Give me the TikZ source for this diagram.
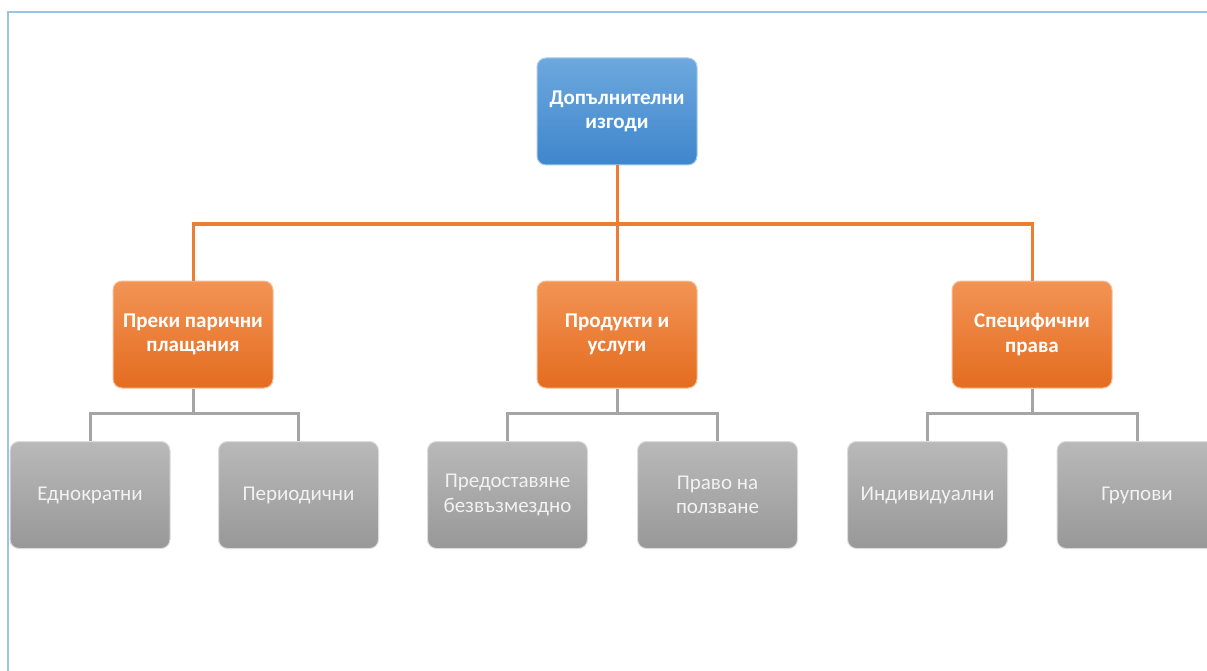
\documentclass[tikz,border=0pt]{standalone}
\usepackage{fontspec}
\setmainfont{Carlito}
\begin{document}
\begin{tikzpicture}[x=1pt,y=-1pt,
  box/.style={rounded corners=9pt, minimum width=160pt, minimum height=107pt, inner sep=0pt,
    align=center, font=\fontsize{21}{24.5}\selectfont, text=white},
  bluebox/.style={box, top color=bluetop, bottom color=bluebot, draw=bluetop!60!white, line width=1pt, font=\fontsize{21}{24.5}\selectfont\bfseries},
  orangebox/.style={box, top color=orangetop, bottom color=orangebot, draw=orangetop!60!white, line width=1pt, font=\fontsize{21}{24.5}\selectfont\bfseries},
  graybox/.style={box, top color=graytop, bottom color=graybot, draw=graytop!50!white, line width=1pt, text=white!95!black},
  oline/.style={draw=orangeline, line width=3pt},
  gline/.style={draw=grayline, line width=3pt}]
\definecolor{bluetop}{HTML}{6DA8DF}
\definecolor{bluebot}{HTML}{3F86CB}
\definecolor{orangetop}{HTML}{F29455}
\definecolor{orangebot}{HTML}{E46C1F}
\definecolor{graytop}{HTML}{B9B9B9}
\definecolor{graybot}{HTML}{989898}
\definecolor{orangeline}{HTML}{ED7D31}
\definecolor{grayline}{HTML}{A5A5A5}
\definecolor{framecol}{HTML}{9DC3E6}
\useasboundingbox (0,0) rectangle (1207,671);
\clip (0,0) rectangle (1207,671);
\fill[white] (0,0) rectangle (1207,671);
\draw[framecol, line width=2.5pt] (1240,12) -- (8,12) -- (8,700);

% coordinates for connector bends
\coordinate (h0) at (617,224);
\coordinate (hA) at (193,413);
\coordinate (hB) at (617,413);
\coordinate (hC) at (1032,413);

% nodes
\node[bluebox] (top) at (617,111.5) {Допълнителни\\изгоди};
\node[orangebox] (a) at (193,334.5) {Преки парични\\плащания};
\node[orangebox] (b) at (617,334.5) {Продукти и\\услуги};
\node[orangebox] (c) at (1032,334.5) {Специфични\\права};
\node[graybox] (a1) at (90,495) {Еднократни};
\node[graybox] (a2) at (298.5,495) {Периодични};
\node[graybox] (b1) at (507.5,495) {Предоставяне\\безвъзмездно};
\node[graybox] (b2) at (717.5,495) {Право на\\ползване};
\node[graybox] (c1) at (927.5,495) {Индивидуални};
\node[graybox] (c2) at (1137,495) {Групови};

% connectors
\draw[oline] (top.south) -- (h0);
\draw[oline] (h0) -| (a.north);
\draw[oline] (h0) -| (c.north);
\draw[oline] (h0) -- (b.north);
\draw[gline] (a.south) -- (hA);
\draw[gline] (hA) -| (a1.north);
\draw[gline] (hA) -| (a2.north);
\draw[gline] (b.south) -- (hB);
\draw[gline] (hB) -| (b1.north);
\draw[gline] (hB) -| (b2.north);
\draw[gline] (c.south) -- (hC);
\draw[gline] (hC) -| (c1.north);
\draw[gline] (hC) -| (c2.north);
\end{tikzpicture}
\end{document}
